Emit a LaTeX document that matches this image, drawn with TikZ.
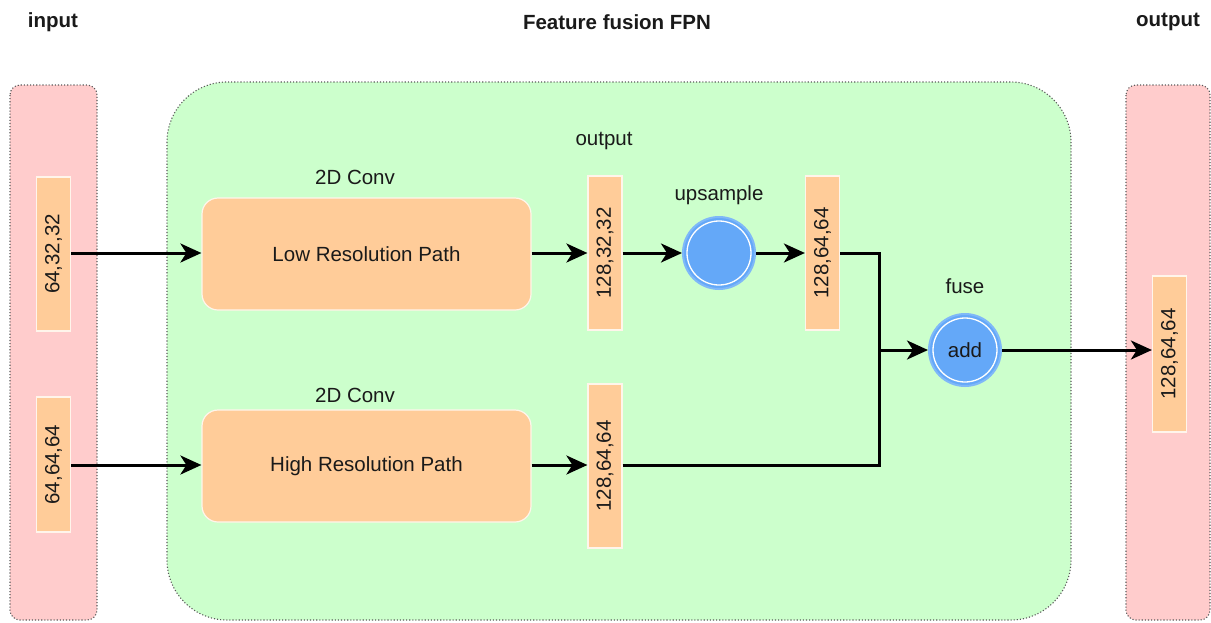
\documentclass[tikz,border=0pt]{standalone}
\usepackage{fontspec}
\setmainfont{Liberation Sans}
\usetikzlibrary{arrows.meta,positioning,calc}
\definecolor{pinkbg}{HTML}{FFCCCC}
\definecolor{greenbg}{HTML}{CCFFCC}
\definecolor{orangebox}{HTML}{FFCC99}
\definecolor{bluecirc}{HTML}{64A8F8}
\definecolor{bluering}{HTML}{7FB8F8}
\definecolor{txt}{HTML}{1A1A1A}
\tikzset{
  panel/.style={draw=gray!70!black, dotted, line width=1.1pt},
  bar/.style={draw=orange!8, fill=orangebox, line width=1.2pt, minimum width=34pt, anchor=center, inner sep=0pt},
  pathbox/.style={draw=orange!8, fill=orangebox, line width=1.2pt, rounded corners=16pt, minimum width=329pt, minimum height=112pt, font=\fontsize{20.5}{24}\selectfont, text=txt},
  opcirc/.style={circle, fill=bluecirc, draw=bluering, line width=2pt, minimum size=72pt, inner sep=0pt, font=\fontsize{20.5}{24}\selectfont, text=txt},
  lbl/.style={font=\fontsize{20.5}{24}\selectfont, text=txt},
  title/.style={font=\bfseries\fontsize{20.5}{24}\selectfont, text=txt},
  barlbl/.style={rotate=90, font=\fontsize{20.5}{24}\selectfont, text=txt},
  conn/.style={line width=3pt, -{Stealth[length=21pt,width=19pt,inset=6pt]}},
  wire/.style={line width=3pt},
}
\begin{document}
\begin{tikzpicture}[x=1pt,y=-1pt]
  \useasboundingbox (0,0) rectangle (1211,622);
  \fill[white] (0,0) rectangle (1211,622);

  % titles
  \node[title] (tin) at (53,22) {input};
  \node[title] (tmid) at (617,22) {Feature fusion FPN};
  \node[title] (tout) at (1168,22) {output};

  % panels
  \draw[panel, fill=pinkbg, rounded corners=10pt] (10,85) rectangle (97,620);
  \draw[panel, fill=greenbg, rounded corners=60pt] (167,82) rectangle (1071,620);
  \draw[panel, fill=pinkbg, rounded corners=10pt] (1126,85) rectangle (1210,620);

  % input tensors
  \node[bar, minimum height=154pt] (in1) at (53.5,254) {};
  \node[barlbl] at (in1) {64,32,32};
  \node[bar, minimum height=135pt] (in2) at (53.5,464.5) {};
  \node[barlbl] at (in2) {64,64,64};

  % convolution paths
  \node[pathbox] (low) at (366.5,254) {Low Resolution Path};
  \node[lbl] (lowt) at (355,177) {2D Conv};
  \node[pathbox] (high) at (366.5,466) {High Resolution Path};
  \node[lbl] (hight) at (355,395) {2D Conv};

  % path outputs
  \node[bar, minimum height=154pt] (o1) at (605,253) {};
  \node[barlbl] at (o1) {128,32,32};
  \node[lbl] (o1t) at (604,141) {output};
  \node[bar, minimum height=164pt] (o2) at (605,466) {};
  \node[barlbl] at (o2) {128,64,64};

  % upsample
  \node[opcirc] (up) at (719,253) {};
  \draw[white, line width=1.3pt] (up.center) circle (32pt);
  \node[lbl] (upt) at (719,195) {upsample};
  \node[bar, minimum height=154pt] (u1) at (822.5,253) {};
  \node[barlbl] at (u1) {128,64,64};

  % fuse
  \node[opcirc] (add) at (965,350) {};
  \draw[white, line width=1.3pt] (add.center) circle (32pt);
  \node[lbl] at (add) {add};
  \node[lbl] (fuset) at (965,286) {fuse};

  % result
  \node[bar, minimum height=156pt] (res) at (1169.5,354) {};
  \node[barlbl] at (res) {128,64,64};

  % connectors
  \coordinate (j) at (879,350);
  \draw[conn] (in1.east |- 0,253) -- (low.west |- 0,253);
  \draw[conn] (in2.east |- 0,465) -- (high.west |- 0,465);
  \draw[conn] (low.east |- 0,253) -- (o1.west |- 0,253);
  \draw[conn] (high.east |- 0,465) -- (o2.west |- 0,465);
  \draw[conn] (o1.east) -- (up.west);
  \draw[conn] (up.east) -- (u1.west);
  \draw[wire] (u1.east) -| (j);
  \draw[wire] (o2.east |- 0,465) -| (j);
  \draw[conn] (j) -- (add.west);
  \draw[conn] (add.east) -- (res.west |- 0,350);
\end{tikzpicture}
\end{document}
